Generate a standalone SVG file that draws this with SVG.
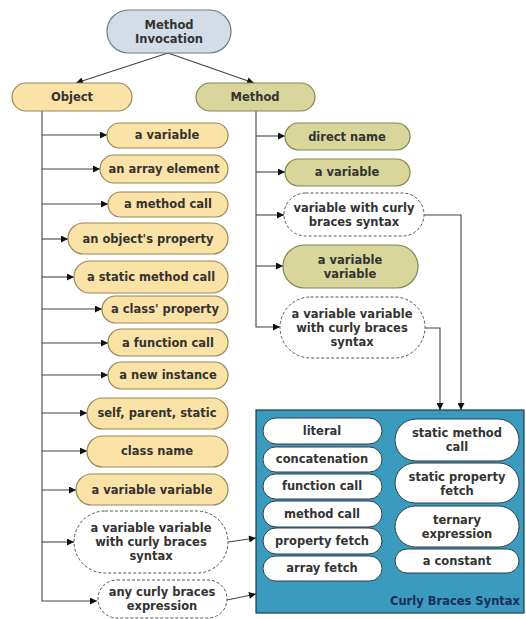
<svg xmlns="http://www.w3.org/2000/svg" width="526" height="619" viewBox="0 0 526 619">
<style>
text{font-family:"DejaVu Sans",sans-serif;font-size:11.5px;font-weight:bold;fill:#333;text-anchor:middle}
.root{fill:#d3dce7;stroke:#6f7b89;stroke-width:1.2}
.obj{fill:#fbe2a6;stroke:#9a8758;stroke-width:1.2}
.met{fill:#d8d69a;stroke:#858650;stroke-width:1.2}
.dash{fill:#fff;stroke:#555;stroke-width:1;stroke-dasharray:3 2}
.inner{fill:#fff;stroke:#2a3f4a;stroke-width:1}
.box{fill:#3a9bbf;stroke:#1f3a48;stroke-width:1.2}
.c{fill:none;stroke:#444;stroke-width:1.1}
.lbl{fill:#1c2d5a;text-anchor:end}
</style>
<defs>
<marker id="ah" viewBox="0 0 10 10" refX="10" refY="5" markerWidth="9" markerHeight="7" markerUnits="userSpaceOnUse" orient="auto">
<path d="M0,0 L10,5 L0,10 z" fill="#111"/>
</marker>
</defs>
<rect width="526" height="619" fill="#fff"/>

<g id="connectors">
<path class="c" d="M168,53 L76,83" marker-end="url(#ah)"/>
<path class="c" d="M168,53 L254,83" marker-end="url(#ah)"/>
<path class="c" d="M42,111 V601 H97" marker-end="url(#ah)"/>
<path class="c" d="M42,135 H107" marker-end="url(#ah)"/>
<path class="c" d="M42,169 H100" marker-end="url(#ah)"/>
<path class="c" d="M42,204 H108" marker-end="url(#ah)"/>
<path class="c" d="M42,239 H68" marker-end="url(#ah)"/>
<path class="c" d="M42,277 H74" marker-end="url(#ah)"/>
<path class="c" d="M42,309 H102" marker-end="url(#ah)"/>
<path class="c" d="M42,343 H108" marker-end="url(#ah)"/>
<path class="c" d="M42,375 H108" marker-end="url(#ah)"/>
<path class="c" d="M42,413 H87" marker-end="url(#ah)"/>
<path class="c" d="M42,451 H87" marker-end="url(#ah)"/>
<path class="c" d="M42,490 H76" marker-end="url(#ah)"/>
<path class="c" d="M42,542 H74" marker-end="url(#ah)"/>
<path class="c" d="M256,111 V327 H280" marker-end="url(#ah)"/>
<path class="c" d="M256,136 H285" marker-end="url(#ah)"/>
<path class="c" d="M256,172 H285" marker-end="url(#ah)"/>
<path class="c" d="M256,215 H284" marker-end="url(#ah)"/>
<path class="c" d="M256,266 H283" marker-end="url(#ah)"/>
<path class="c" d="M424,215 H461 V410" marker-end="url(#ah)"/>
<path class="c" d="M425,328 H440 V410" marker-end="url(#ah)"/>
<path class="c" d="M228,542 L256,538" marker-end="url(#ah)"/>
<path class="c" d="M227,600 L256,594" marker-end="url(#ah)"/>
</g>

<g id="method-invocation"><rect class="root" x="107" y="10" width="124" height="43" rx="21.5"/><text x="169" y="29">Method</text><text x="169" y="43">Invocation</text></g>
<g id="object"><rect class="obj" x="12" y="83" width="120" height="28" rx="14"/><text x="72" y="101">Object</text></g>
<g id="method"><rect class="met" x="196" y="83" width="119" height="28" rx="14"/><text x="255" y="101">Method</text></g>

<g id="o-variable"><rect class="obj" x="107" y="123" width="121" height="25" rx="12.5"/><text x="167" y="139">a variable</text></g>
<g id="o-array-element"><rect class="obj" x="100" y="155" width="128" height="28" rx="14"/><text x="164" y="173">an array element</text></g>
<g id="o-method-call"><rect class="obj" x="108" y="192" width="120" height="25" rx="12.5"/><text x="168" y="208">a method call</text></g>
<g id="o-object-property"><rect class="obj" x="68" y="223" width="160" height="31" rx="15.5"/><text x="148" y="243">an object's property</text></g>
<g id="o-static-method-call"><rect class="obj" x="74" y="261" width="154" height="32" rx="16"/><text x="151" y="281">a static method call</text></g>
<g id="o-class-property"><rect class="obj" x="102" y="296" width="126" height="27" rx="13.5"/><text x="165" y="313">a class' property</text></g>
<g id="o-function-call"><rect class="obj" x="108" y="329" width="120" height="27" rx="13.5"/><text x="168" y="347">a function call</text></g>
<g id="o-new-instance"><rect class="obj" x="108" y="362" width="120" height="27" rx="13.5"/><text x="168" y="379">a new instance</text></g>
<g id="o-self-parent-static"><rect class="obj" x="87" y="398" width="141" height="31" rx="15.5"/><text x="157" y="417">self, parent, static</text></g>
<g id="o-class-name"><rect class="obj" x="87" y="436" width="141" height="31" rx="15.5"/><text x="157" y="455">class name</text></g>
<g id="o-variable-variable"><rect class="obj" x="76" y="474" width="152" height="31" rx="15.5"/><text x="152" y="494">a variable variable</text></g>
<g id="o-var-var-curly"><rect class="dash" x="74" y="511" width="154" height="62" rx="31"/><text x="151" y="532">a variable variable</text><text x="151" y="546">with curly braces</text><text x="151" y="560">syntax</text></g>
<g id="o-any-curly"><rect class="dash" x="98" y="580" width="129" height="38" rx="19"/><text x="162" y="596">any curly braces</text><text x="162" y="610">expression</text></g>

<g id="m-direct-name"><rect class="met" x="285" y="123" width="125" height="27" rx="13.5"/><text x="347" y="141">direct name</text></g>
<g id="m-variable"><rect class="met" x="285" y="159" width="125" height="27" rx="13.5"/><text x="347" y="176">a variable</text></g>
<g id="m-var-curly"><rect class="dash" x="284" y="193" width="140" height="43" rx="21.5"/><text x="354" y="212">variable with curly</text><text x="354" y="226">braces syntax</text></g>
<g id="m-variable-variable"><rect class="met" x="283" y="245" width="135" height="43" rx="21.5" stroke-width="1.8"/><text x="350" y="264">a variable</text><text x="350" y="278">variable</text></g>
<g id="m-var-var-curly"><rect class="dash" x="280" y="297" width="145" height="61" rx="30.5"/><text x="352" y="318">a variable variable</text><text x="352" y="332">with curly braces</text><text x="352" y="346">syntax</text></g>

<g id="curly-braces-syntax">
<rect class="box" x="256" y="410" width="268" height="203"/>
<text class="lbl" x="520" y="605">Curly Braces Syntax</text>
</g>
<g id="c-literal"><rect class="inner" x="263" y="418" width="119" height="26" rx="13"/><text x="322" y="435">literal</text></g>
<g id="c-concatenation"><rect class="inner" x="263" y="447" width="119" height="25" rx="12.5"/><text x="322" y="463">concatenation</text></g>
<g id="c-function-call"><rect class="inner" x="263" y="474" width="119" height="25" rx="12.5"/><text x="322" y="490">function call</text></g>
<g id="c-method-call"><rect class="inner" x="263" y="501" width="119" height="26" rx="13"/><text x="322" y="518">method call</text></g>
<g id="c-property-fetch"><rect class="inner" x="263" y="528" width="119" height="26" rx="13"/><text x="322" y="545">property fetch</text></g>
<g id="c-array-fetch"><rect class="inner" x="263" y="556" width="119" height="25" rx="12.5"/><text x="322" y="572">array fetch</text></g>
<g id="c-static-method-call"><rect class="inner" x="395" y="419" width="124" height="42" rx="21"/><text x="457" y="437">static method</text><text x="457" y="451">call</text></g>
<g id="c-static-property-fetch"><rect class="inner" x="395" y="463" width="124" height="40" rx="20"/><text x="457" y="481">static property</text><text x="457" y="495">fetch</text></g>
<g id="c-ternary"><rect class="inner" x="395" y="506" width="124" height="41" rx="20.5"/><text x="457" y="524">ternary</text><text x="457" y="538">expression</text></g>
<g id="c-constant"><rect class="inner" x="395" y="549" width="124" height="24" rx="12"/><text x="457" y="565">a constant</text></g>
</svg>
